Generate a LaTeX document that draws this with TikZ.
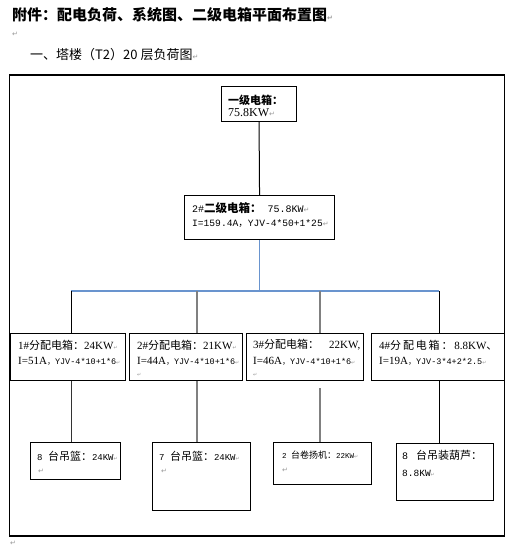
\documentclass[tikz,border=0pt]{standalone}
\usepackage{fontspec}
\setmainfont{Liberation Serif}
\newfontfamily\cjk{Noto Sans CJK SC}
\newfontfamily\monof{Liberation Mono}
\newfontfamily\symf{DejaVu Sans}
\definecolor{markgray}{RGB}{150,150,150}
\definecolor{busblue}{RGB}{105,148,206}
\definecolor{dropgray}{RGB}{128,128,128}
\newcommand\Cj[1]{{\cjk #1}}
\newcommand\Mo[2]{{\monof\fontsize{#1}{#1}\selectfont #2}}
\newcommand\pmark{{\symf\fontsize{7}{7}\selectfont\color{markgray}↵}}
\newcommand\pmarks{{\symf\fontsize{5}{5}\selectfont\color{markgray}↵}}
\begin{document}
\begin{tikzpicture}[x=1pt,y=-1pt,
  box/.style={draw, line width=1.1pt, inner sep=0pt, anchor=north west},
  txt/.style={anchor=west, inner sep=0pt},
  fsz/.style={font=\fontsize{#1}{#1}\selectfont},
  link/.style={line width=1pt},
  glink/.style={line width=1.1pt, draw=dropgray},
  busln/.style={line width=1.1pt, draw=busblue}]
\useasboundingbox (0,0) rectangle (518,549);
% frame
\draw[line width=1.1pt] (9.5,75) rectangle (504.5,536);
% headings
\node[txt, font=\cjk\bfseries\fontsize{15}{15}\selectfont] (title) at (12,15) {附件：配电负荷、系统图、二级电箱平面布置图\pmark};
\node[txt] (pm1) at (12,34) {\pmark};
\node[txt, font=\cjk\fontsize{13}{13}\selectfont] (sub) at (30,55) {一、塔楼（T2）20 层负荷图\pmark};
\node[txt] (pm2) at (10,543) {\pmark};
% boxes
\node[box, minimum width=75pt, minimum height=35pt] (b1) at (221,86) {};
\node[box, minimum width=150pt, minimum height=44pt] (b2) at (184,195) {};
\node[box, minimum width=115pt, minimum height=47pt] (l3a) at (10,333) {};
\node[box, minimum width=113pt, minimum height=47pt] (l3b) at (129,333) {};
\node[box, minimum width=117pt, minimum height=47pt] (l3c) at (246,333) {};
\node[box, minimum width=133pt, minimum height=47pt] (l3d) at (371,333) {};
\node[box, minimum width=90pt, minimum height=37pt] (l4a) at (30,442) {};
\node[box, minimum width=98pt, minimum height=68pt] (l4b) at (152,442) {};
\node[box, minimum width=98pt, minimum height=42pt] (l4c) at (273,442) {};
\node[box, minimum width=97pt, minimum height=57pt] (l4d) at (396,443) {};
% box texts
\node[txt, font=\cjk\bfseries\fontsize{11}{11}\selectfont] (b1t1) at (228,100) {一级电箱：};
\node[txt, fsz=12] (b1t2) at (228,113) {75.8KW\pmark};
\node[txt, fsz=11.5] (b2t1) at (192,208) {\Mo{10}{2\#}\Cj{\bfseries 二级电箱：}\Mo{10}{ 75.8KW}\pmark};
\node[txt, fsz=9.6] (b2t2) at (192,224) {\Mo{9.6}{I=159.4A}\Cj{，}\Mo{9.6}{YJV-4*50+1*25}\pmark};
\node[txt, fsz=11] (l3at1) at (18,345) {1\#\Cj{分配电箱：}24KW\pmarks};
\node[txt, fsz=11] (l3at2) at (18,361) {I=51A\Cj{\fontsize{8}{8}\selectfont ，}\Mo{8.5}{YJV-4*10+1*6}\pmarks};
\node[txt, fsz=11] (l3bt1) at (137,345) {2\#\Cj{分配电箱：}21KW\pmarks};
\node[txt, fsz=11] (l3bt2) at (137,361) {I=44A\Cj{\fontsize{8}{8}\selectfont ，}\Mo{8.5}{YJV-4*10+1*6}\pmarks};
\node[txt] (l3bt3) at (137,375) {\pmarks};
\node[txt, fsz=11] (l3ct1) at (253,345) {3\#\Cj{分配电箱：}\hspace{10pt}22KW,};
\node[txt, fsz=11] (l3ct2) at (253,361) {I=46A\Cj{\fontsize{8}{8}\selectfont ，}\Mo{8.5}{YJV-4*10+1*6}\pmarks};
\node[txt] (l3ct3) at (253,375) {\pmarks};
\node[txt, fsz=11] (l3dt1) at (379,345) {4\#\Cj{分\,配\,电\,箱\,：\,}8.8KW\Cj{、}};
\node[txt, fsz=11] (l3dt2) at (379,361) {I=19A\Cj{\fontsize{8}{8}\selectfont ，}\Mo{8.5}{YJV-3*4+2*2.5}\pmarks};
\node[txt, font=\cjk\fontsize{11}{11}\selectfont] (l4at1) at (37,456) {\Mo{9}{8 }台吊篮：\Mo{9}{24KW}\pmarks};
\node[txt] (l4at2) at (38,471) {\pmark};
\node[txt, font=\cjk\fontsize{11}{11}\selectfont] (l4bt1) at (159,456) {\Mo{9}{7 }台吊篮：\Mo{9}{24KW}\pmarks};
\node[txt] (l4bt2) at (161,471) {\pmark};
\node[txt, font=\cjk\fontsize{9}{9}\selectfont] (l4ct1) at (282,455) {\Mo{7.5}{2 }台卷扬机：\Mo{7.5}{22KW}\pmarks};
\node[txt] (l4ct2) at (282,470) {\pmark};
\node[txt, font=\cjk\fontsize{11}{11}\selectfont] (l4dt1) at (402,455) {\Mo{10}{8 }\hspace{2pt}台吊装葫芦：};
\node[txt] (l4dt2) at (402,473) {\Mo{9.5}{8.8KW}\pmarks};
% connectors
\coordinate (bus) at (259,291);
\coordinate (d1) at (71,291);
\coordinate (d2) at (197,291);
\coordinate (d3) at (320,291);
\coordinate (d4) at (439,291);
\coordinate (g3) at (320,388);
\draw[link] (b1.south) -- (b2.north);
\draw[busln] (b2.south) -- (b2.south |- bus);
\draw[busln] (d1) -- (d4);
\draw[link] (d1) -- (d1 |- l3a.north);
\draw[glink] (d2) -- (d2 |- l3b.north);
\draw[glink, line width=1.4pt] (d3) -- (d3 |- l3c.north);
\draw[link] (d4) -- (d4 |- l3d.north);
\draw[link, draw=black!80] (d1 |- l3a.south) -- (d1 |- l4a.north);
\draw[glink] (d2 |- l3b.south) -- (d2 |- l4b.north);
\draw[glink, line width=1.4pt] (g3) -- (g3 |- l4c.north);
\draw[link] (d4 |- l3d.south) -- (d4 |- l4d.north);
\end{tikzpicture}
\end{document}
